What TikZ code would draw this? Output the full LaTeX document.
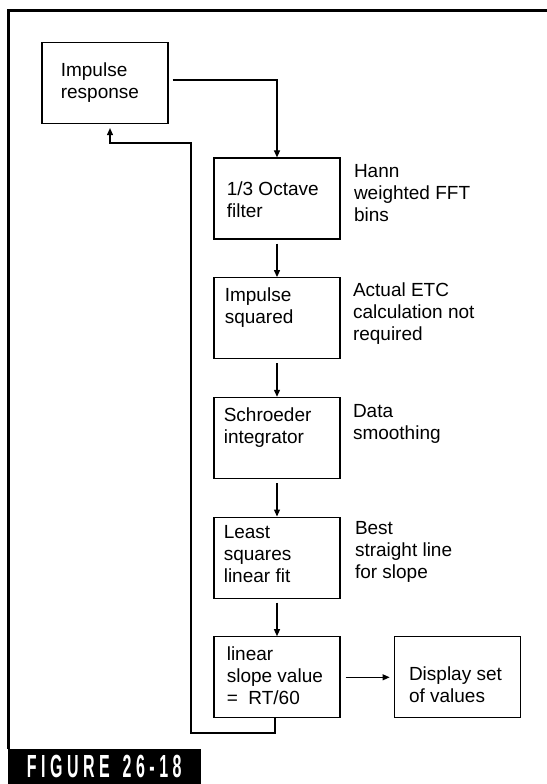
\documentclass[tikz,border=0pt]{standalone}
\usepackage{fontspec}
\setmainfont{Liberation Sans}
\newfontfamily\figfont[LetterSpace=28]{Liberation Sans}
\usetikzlibrary{arrows.meta, positioning}

\begin{document}
\begin{tikzpicture}[
    x=0.5pt, y=-0.5pt,
    font         = \fontsize{9.5}{11}\selectfont,
    blk/.style   = {draw, line width=0.6pt, minimum width=63pt,
                    minimum height=40.5pt, inner sep=0pt},
    txt/.style   = {align=left, inner sep=0pt, anchor=north west},
    arr/.style   = {-{Triangle[length=3.5pt, width=3pt]}, line width=0.55pt},
    frame/.style = {line width=1.3pt},
    figlbl/.style = {fill=black, text=white, inner sep=0pt,
                     minimum width=96.75pt, minimum height=17.5pt,
                     font=\figfont\bfseries\fontsize{16}{16}\selectfont},
  ]
  \useasboundingbox (0,0) rectangle (547,784);
  % outer frame and caption
  \draw[frame] (8.75,749) |- (547,10.5);
  \node[figlbl] (fig) at (104.25,766.5) {\scalebox{0.5}[1]{FIGURE\hspace{4pt} 26-18}};

  % blocks
  \node[blk] (imp) at (105,83) {};
  \node[blk] (oct) at (277,198.5) {};
  \node[blk, below=18.75pt of oct] (sq) {};
  \node[blk, below=18.75pt of sq] (sch) {};
  \node[blk, below=18.75pt of sch] (lsq) {};
  \node[blk, below=18.75pt of lsq] (slope) {};
  \node[blk, right=26.5pt of slope] (disp) {};

  % block texts
  \node[txt, below right=10pt and 9.5pt of imp.north west] (impt) {Impulse\\response};
  \node[txt, below right=12pt and 6.5pt of oct.north west] (octt) {1/3 Octave\\filter};
  \node[txt, below right=5pt and 5.5pt of sq.north west] (sqt) {Impulse\\squared};
  \node[txt, below right=5.5pt and 5pt of sch.north west] (scht) {Schroeder\\integrator};
  \node[txt, below right=4.5pt and 5pt of lsq.north west] (lsqt) {Least\\squares\\linear fit};
  \node[txt, below right=5pt and 6.5pt of slope.north west] (slopet) {linear\\slope value\\=\ \ RT/60};
  \node[txt, below right=15pt and 7.5pt of disp.north west] (dispt) {Display set\\of values};

  % side notes
  \node[txt, below right=3.5pt and 6.5pt of oct.north east] (octn) {Hann\\weighted FFT\\bins};
  \node[txt, below right=2.5pt and 6pt of sq.north east] (sqn) {Actual ETC\\calculation not\\required};
  \node[txt, below right=3.5pt and 6pt of sch.north east] (schn) {Data\\smoothing};
  \node[txt, below right=2.5pt and 7pt of lsq.north east] (lsqn) {Best\\straight line\\for slope};

  % connectors
  \draw[arr, shorten <=2pt] ([yshift=1.5pt]imp.east) -| (oct.north);
  \draw[arr, shorten <=2pt] (oct) -- (sq);
  \draw[arr, shorten <=2pt] (sq) -- (sch);
  \draw[arr, shorten <=2pt] (sch) -- (lsq);
  \draw[arr, shorten <=2pt] (lsq) -- (slope);
  \draw[arr, shorten <=2.5pt, shorten >=2pt] (slope) -- (disp);
  \coordinate (fbA) at (191,733);
  \coordinate (fbB) at (191,143);
  \draw[arr, shorten >=2pt] ([xshift=-1pt]slope.south) |- (fbA) -- (fbB) -| ([xshift=2.5pt]imp.south);
\end{tikzpicture}
\end{document}
